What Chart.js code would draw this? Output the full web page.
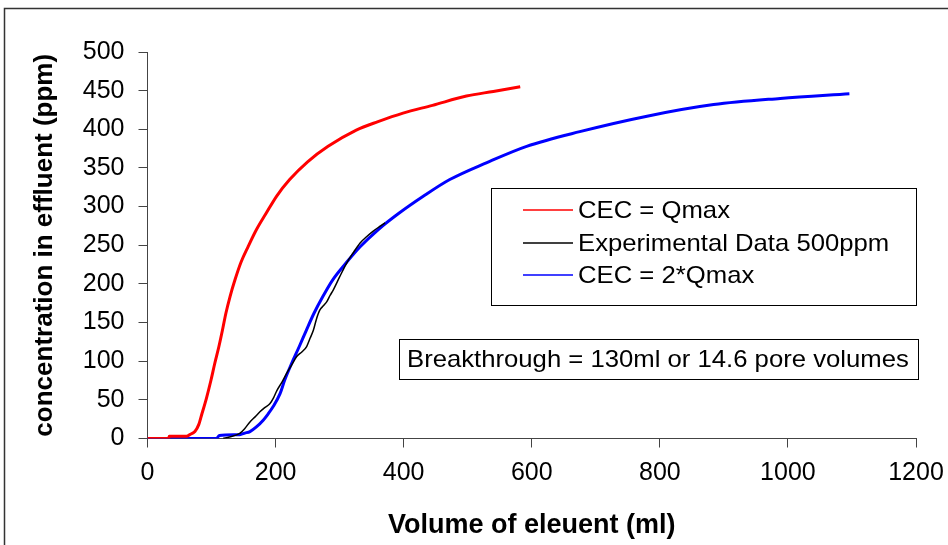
<!DOCTYPE html>
<html>
<head>
<meta charset="utf-8">
<script src="https://cdn.jsdelivr.net/npm/chart.js@4.4.0/dist/chart.umd.min.js"></script>
<style>
  html, body { margin: 0; padding: 0; background: #fff; }
  #wrap { position: relative; width: 948px; height: 545px; }
  canvas { display: block; }
</style>
</head>
<body>
<div id="wrap"><canvas id="c" width="948" height="545"></canvas></div>
<script>
// ---- Data ----
const redX   = [0, 33, 34, 61, 66, 74, 80, 85, 92, 99, 105, 111.5, 117, 122.4, 129, 136.5, 146, 157, 170, 185, 202, 222, 250, 282, 326, 360, 399, 445, 498, 540, 582];
const redY   = [0, 0, 3, 3, 5, 9, 18, 32, 52, 75, 97, 119, 140, 162, 184, 205, 228, 248, 270, 291, 314, 335, 358, 378, 399, 410, 421, 431, 443, 449, 455];

const blackX = [118, 128, 144, 152, 160, 168, 175.5, 183, 191, 197, 202, 210, 217, 225, 233, 241, 248.5, 254, 259, 264, 269, 275, 280, 285, 290, 300, 311, 321, 332, 342, 352, 362, 371];
const blackY = [0, 2, 6.5, 13, 21.5, 28, 34.5, 40, 45, 53, 62, 73, 84, 95, 106, 112, 119, 130, 140, 155, 166, 172, 177, 185, 192, 209, 227, 240, 253, 261, 268, 274, 279];

const blueX  = [0, 108, 112, 144, 152, 160, 170, 181, 188.5, 196, 207, 214, 225, 237, 248, 260, 274, 289, 310, 332, 360, 392, 430, 472, 530, 592, 675, 780, 884, 988, 1096];
const blueY  = [0, 0, 4, 5, 7, 9, 15, 24, 32, 41, 58, 75, 97, 119, 140, 162, 184, 205, 227, 248, 270, 291, 313, 335, 357, 378, 397, 417, 432, 440, 446];

const seriesLabels = ["CEC = Qmax", "Experimental Data 500ppm", "CEC = 2*Qmax"];
const seriesColors = ["#ff0000", "#000000", "#0000ff"];
const xTicks = [0, 200, 400, 600, 800, 1000, 1200];
const yTicks = [0, 50, 100, 150, 200, 250, 300, 350, 400, 450, 500];
const xTitle = "Volume of eleuent (ml)";
const yTitle = "concentration in effluent (ppm)";
const noteText = "Breakthrough = 130ml or 14.6 pore volumes";

const zip = (xs, ys) => xs.map((x, i) => ({ x: x, y: ys[i] }));

const FONT = "'Liberation Sans', Arial, sans-serif";

// Frame, legend box and note box
const decorPlugin = {
  id: 'decor',
  beforeDraw(chart) {
    const ctx = chart.ctx;
    ctx.save();
    ctx.fillStyle = '#fff';
    ctx.fillRect(0, 0, chart.width, chart.height);
    ctx.strokeStyle = '#333';
    ctx.lineWidth = 1.5;
    ctx.strokeRect(4.5, 8.5, 1000, 600);
    ctx.restore();
  },
  afterDraw(chart) {
    const ctx = chart.ctx;
    const ds = chart.data.datasets;
    ctx.save();
    // legend box
    ctx.strokeStyle = '#000';
    ctx.lineWidth = 1;
    ctx.fillStyle = '#fff';
    ctx.fillRect(491.5, 188.5, 425, 117);
    ctx.strokeRect(491.5, 188.5, 425, 117);
    const rows = [210, 243, 275];
    ds.forEach((d, i) => {
      const y = rows[i];
      ctx.strokeStyle = d.borderColor;
      ctx.lineWidth = 1.5;
      ctx.beginPath();
      ctx.moveTo(523, y);
      ctx.lineTo(573, y);
      ctx.stroke();
      ctx.save();
      ctx.translate(578, y);
      ctx.scale(1.07, 1);
      ctx.fillStyle = '#000';
      ctx.font = '24px ' + FONT;
      ctx.textBaseline = 'middle';
      ctx.textAlign = 'left';
      ctx.fillText(d.label, 0, 1);
      ctx.restore();
    });
    // note box
    ctx.strokeStyle = '#000';
    ctx.lineWidth = 1;
    ctx.fillStyle = '#fff';
    ctx.fillRect(399.5, 339.5, 519, 40);
    ctx.strokeRect(399.5, 339.5, 519, 40);
    ctx.save();
    ctx.translate(407, 360);
    ctx.scale(1.07, 1);
    ctx.fillStyle = '#000';
    ctx.font = '24px ' + FONT;
    ctx.textBaseline = 'middle';
    ctx.textAlign = 'left';
    ctx.fillText(noteText, 0, 0);
    ctx.restore();
    ctx.restore();
  }
};

const lineStyle = { showLine: true, pointRadius: 0, cubicInterpolationMode: 'monotone' };

new Chart(document.getElementById('c'), {
  type: 'scatter',
  data: {
    datasets: [
      Object.assign({ label: seriesLabels[0], data: zip(redX, redY), borderColor: seriesColors[0], backgroundColor: seriesColors[0], borderWidth: 3 }, lineStyle),
      Object.assign({ label: seriesLabels[1], data: zip(blackX, blackY), borderColor: seriesColors[1], backgroundColor: seriesColors[1], borderWidth: 1.5 }, lineStyle),
      Object.assign({ label: seriesLabels[2], data: zip(blueX, blueY), borderColor: seriesColors[2], backgroundColor: seriesColors[2], borderWidth: 3 }, lineStyle)
    ]
  },
  options: {
    responsive: false,
    animation: false,
    devicePixelRatio: 1,
    layout: { padding: { left: 0, top: 52, right: 32, bottom: 0 } },
    plugins: { legend: { display: false }, tooltip: { enabled: false } },
    scales: {
      x: {
        type: 'linear',
        min: 0, max: 1200,
        afterBuildTicks(scale) { scale.ticks = xTicks.map(v => ({ value: v })); },
        afterFit(scale) { scale.height = 106.5; scale.paddingLeft = 0; scale.paddingRight = 0; },
        grid: { display: true, drawOnChartArea: false, drawTicks: true, tickLength: 9, color: '#444' },
        border: { display: true, color: '#444', width: 1 },
        ticks: { color: '#000', font: { family: FONT, size: 25 }, padding: 11, maxRotation: 0, callback: v => String(v) },
        title: { display: true, text: xTitle, color: '#000', font: { family: FONT, size: 27, weight: 'bold' }, padding: { top: 0, bottom: 3 } }
      },
      y: {
        type: 'linear',
        min: 0, max: 500,
        afterBuildTicks(scale) { scale.ticks = yTicks.map(v => ({ value: v })); },
        afterFit(scale) { scale.width = 147.5; },
        grid: { display: true, drawOnChartArea: false, drawTicks: true, tickLength: 9, color: '#444' },
        border: { display: true, color: '#444', width: 1 },
        ticks: { color: '#000', font: { family: FONT, size: 25 }, padding: 14, callback: v => String(v) },
        title: { display: true, text: yTitle, color: '#000', font: { family: FONT, size: 26, weight: 'bold' }, padding: { top: 29, bottom: 0 } }
      }
    }
  },
  plugins: [decorPlugin]
});
</script>
</body>
</html>
